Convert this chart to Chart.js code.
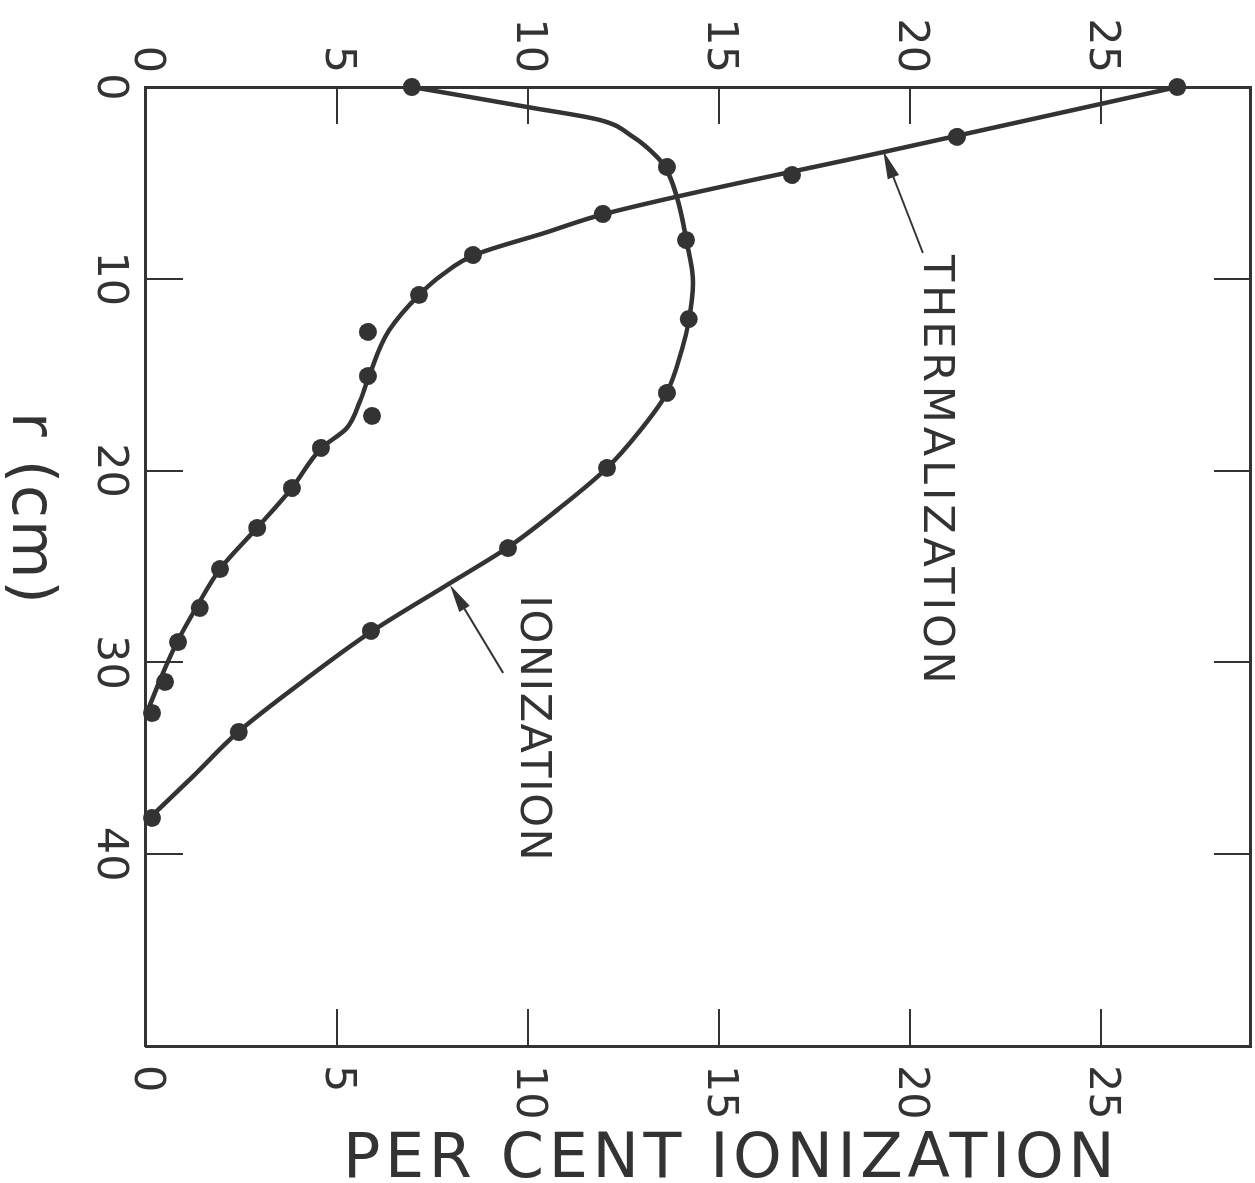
<!DOCTYPE html>
<html><head><meta charset="utf-8">
<script src="https://cdn.jsdelivr.net/npm/chart.js@4.4.0/dist/chart.umd.min.js"></script>
<style>
html,body{margin:0;padding:0;background:#fff;width:1255px;height:1183px;overflow:hidden;}
#wrap{position:absolute;left:0;top:0;width:1183px;height:1255px;transform-origin:0 0;transform:translate(1255px,0) rotate(90deg);}
#ptitle{position:absolute;left:343px;top:1125px;font-family:'DejaVu Sans';font-size:62px;line-height:1;letter-spacing:4.6px;color:#333;white-space:nowrap;}
</style></head><body>
<div id="wrap"><canvas id="c" width="1183" height="1255"></canvas></div>
<div id="ptitle">PER CENT IONIZATION</div>
<script>
// ---- data (r in cm, percent ionization) ----
const rTicks = [0, 10, 20, 30, 40];
const pctTicks = [0, 5, 10, 15, 20, 25];

const ionPointR   = [0, 4.17, 7.98, 12.1, 15.95, 19.86, 24.04, 28.36, 33.63, 38.11];
const ionPointPct = [6.96, 13.64, 14.14, 14.21, 13.64, 12.07, 9.48, 5.89, 2.43, 0.16];

const thermPointR   = [0, 2.6, 4.59, 6.62, 8.76, 10.84, 12.77, 15.07, 17.15, 18.82, 20.91, 22.99, 25.13, 27.16, 28.94, 31.02, 32.64];
const thermPointPct = [27.0, 21.23, 16.91, 11.96, 8.56, 7.15, 5.81, 5.81, 5.92, 4.58, 3.82, 2.91, 1.94, 1.41, 0.84, 0.5, 0.16];

const ionCurveR   = [0, 1.04, 1.72, 2.6, 3.65, 4.2, 5.74, 8.0, 10.2, 12.1, 13.7, 16.0, 18.0, 19.9, 22.0, 24.0, 26.0, 28.4, 31.0, 33.6, 36.0, 38.1];
const ionCurvePct = [6.96, 9.97, 11.88, 12.75, 13.38, 13.6, 13.9, 14.15, 14.32, 14.22, 14.03, 13.62, 12.9, 12.05, 10.8, 9.48, 7.85, 5.9, 4.1, 2.43, 1.2, 0.1];

const thermCurveR   = [0, 3.3, 6.62, 7.6, 8.76, 9.8, 10.84, 12.7, 15.0, 16.4, 17.8, 18.82, 20.91, 23.0, 25.1, 27.2, 29.0, 31.0, 32.5];
const thermCurvePct = [27.0, 19.52, 12.0, 10.45, 8.6, 7.75, 7.15, 6.36, 5.85, 5.6, 5.25, 4.6, 3.82, 2.9, 1.95, 1.3, 0.8, 0.35, 0.05];

// annotations (data coordinates)
const labelText = ['THERMALIZATION', 'IONIZATION'];
const labelR    = [8.76, 26.5];
const labelPct  = [20.65, 10.1];
const arrowTailR   = [8.65, 30.55];
const arrowTailPct = [20.34, 9.35];
const arrowTipR    = [3.34, 25.96];
const arrowTipPct  = [19.3, 7.96];
const axisTitleR = 'r (cm)';
const axisTitleAtR = 22.0;

// ---- drawing ----
const INK = '#333';
Chart.defaults.font.family = "'DejaVu Sans'";
Chart.defaults.color = INK;

const pts = (rs, ps) => rs.map((r, i) => ({x: r, y: ps[i]}));

const annot = {
  id: 'annot',
  afterDatasetsDraw(chart) {
    const {ctx, scales: {x, y}} = chart;
    ctx.save();
    ctx.strokeStyle = INK; ctx.fillStyle = INK; ctx.lineWidth = 2;
    arrowTailR.forEach((_, i) => {
      const x1 = x.getPixelForValue(arrowTailR[i]), y1 = y.getPixelForValue(arrowTailPct[i]);
      const x2 = x.getPixelForValue(arrowTipR[i]), y2 = y.getPixelForValue(arrowTipPct[i]);
      const a = Math.atan2(y2 - y1, x2 - x1), L = 28, W = 6;
      ctx.beginPath(); ctx.moveTo(x1, y1);
      ctx.lineTo(x2 - Math.cos(a) * L * 0.8, y2 - Math.sin(a) * L * 0.8); ctx.stroke();
      ctx.beginPath(); ctx.moveTo(x2, y2);
      ctx.lineTo(x2 - L * Math.cos(a) + W * Math.sin(a), y2 - L * Math.sin(a) - W * Math.cos(a));
      ctx.lineTo(x2 - L * Math.cos(a) - W * Math.sin(a), y2 - L * Math.sin(a) + W * Math.cos(a));
      ctx.closePath(); ctx.fill();
    });
    const spacing = [3.8, 1.5];
    ctx.font = "43px 'DejaVu Sans'"; ctx.textAlign = 'left'; ctx.textBaseline = 'middle';
    labelText.forEach((t, i) => {
      ctx.letterSpacing = spacing[i] + 'px';
      ctx.fillText(t, x.getPixelForValue(labelR[i]), y.getPixelForValue(labelPct[i]));
    });
    ctx.letterSpacing = '2px';
    ctx.font = "60px 'DejaVu Sans'"; ctx.textAlign = 'center'; ctx.textBaseline = 'alphabetic';
    ctx.fillText(axisTitleR, x.getPixelForValue(axisTitleAtR), chart.height - 13);
    ctx.restore();
  }
};

const gridOpt = {drawOnChartArea: false, tickLength: -37, color: INK, lineWidth: 2};
const borderOpt = {display: true, color: INK, width: 3};
const tickFont = {size: 43};

new Chart(document.getElementById('c'), {
  type: 'scatter',
  data: {datasets: [
    {label: 'Ionization points', data: pts(ionPointR, ionPointPct), pointRadius: 9, pointBackgroundColor: INK, pointBorderWidth: 0, showLine: false, clip: false},
    {label: 'Thermalization points', data: pts(thermPointR, thermPointPct), pointRadius: 9, pointBackgroundColor: INK, pointBorderWidth: 0, showLine: false, clip: false},
    {label: 'Ionization', data: pts(ionCurveR, ionCurvePct), showLine: true, pointRadius: 0, borderColor: INK, borderWidth: 4.5, cubicInterpolationMode: 'monotone', clip: false},
    {label: 'Thermalization', data: pts(thermCurveR, thermCurvePct), showLine: true, pointRadius: 0, borderColor: INK, borderWidth: 4.5, cubicInterpolationMode: 'monotone', clip: false}
  ]},
  options: {
    responsive: false, animation: false, devicePixelRatio: 1,
    layout: {padding: 0, autoPadding: false},
    plugins: {legend: {display: false}, tooltip: {enabled: false}},
    scales: {
      x: {type: 'linear', position: 'bottom', min: 0, max: 50,
          afterBuildTicks: s => { s.ticks = rTicks.map(v => ({value: v})); },
          afterFit: s => { s.height = 146; s.paddingLeft = 0; s.paddingRight = 0; },
          grid: gridOpt, border: borderOpt,
          ticks: {padding: 48, font: tickFont, color: INK, maxRotation: 0, autoSkip: false}},
      x2: {type: 'linear', position: 'top', min: 0, max: 50,
          afterBuildTicks: s => { s.ticks = rTicks.map(v => ({value: v})); },
          afterFit: s => { s.height = 4; s.paddingLeft = 0; s.paddingRight = 0; },
          grid: gridOpt, border: borderOpt, ticks: {display: false}},
      y: {type: 'linear', position: 'left', min: 0, max: 28.93,
          afterBuildTicks: s => { s.ticks = pctTicks.map(v => ({value: v})); },
          afterFit: s => { s.width = 87; s.paddingTop = 0; s.paddingBottom = 0; },
          grid: gridOpt, border: borderOpt,
          ticks: {padding: 51, font: tickFont, color: INK, autoSkip: false}},
      y2: {type: 'linear', position: 'right', min: 0, max: 28.93,
          afterBuildTicks: s => { s.ticks = pctTicks.map(v => ({value: v})); },
          afterFit: s => { s.width = 137; s.paddingTop = 0; s.paddingBottom = 0; },
          grid: gridOpt, border: borderOpt,
          ticks: {padding: 56, font: tickFont, color: INK, autoSkip: false}}
    }
  },
  plugins: [annot]
});
</script>
</body></html>
